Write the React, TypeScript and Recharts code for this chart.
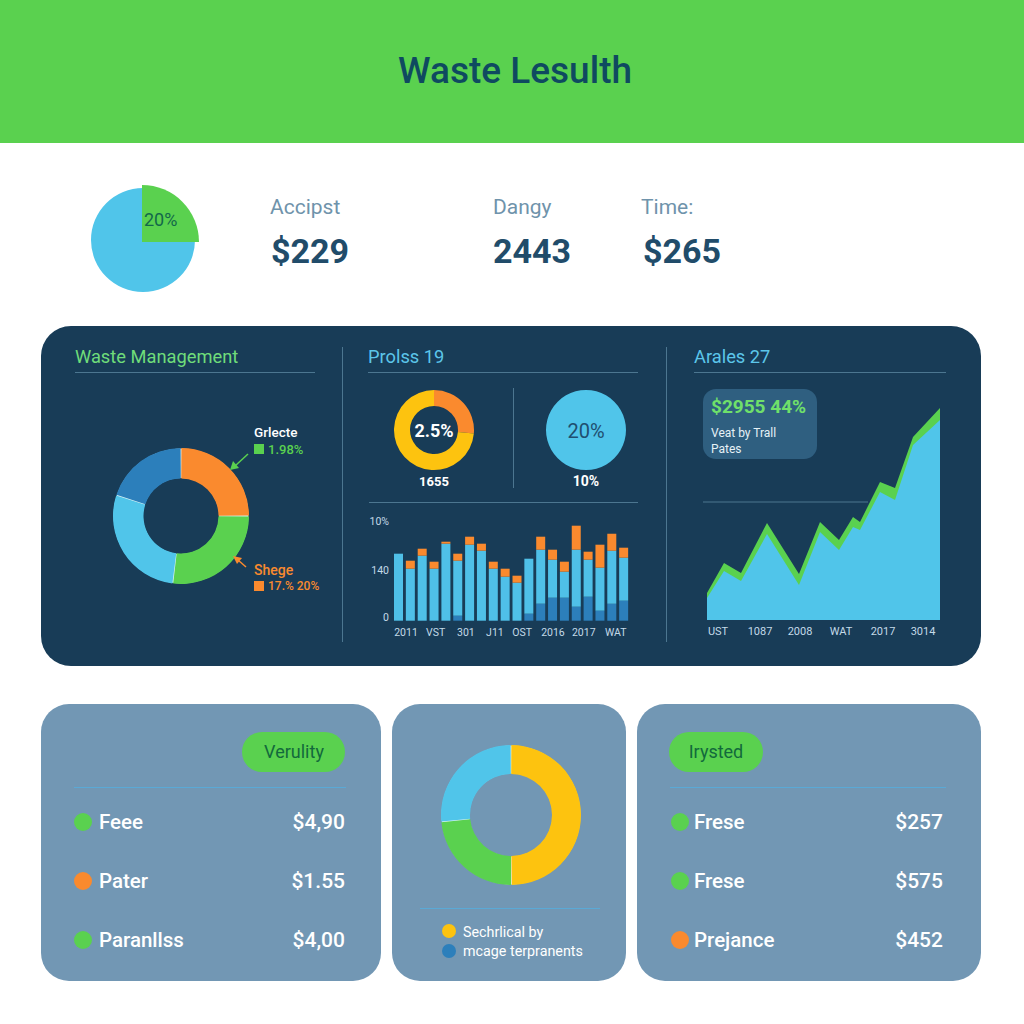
import React from "react"
import {
  Area,
  AreaChart,
  Bar,
  BarChart,
  Cell,
  Pie,
  PieChart,
  ReferenceLine,
  XAxis,
  YAxis,
} from "recharts"

const GREEN = "#5ad14f"
const SKY = "#50c5ea"
const BLUE = "#2c7fbb"
const ORANGE = "#fa8a2e"
const YELLOW = "#fdc30f"
const NAVY = "#183c57"
const CARD = "#7297b4"
const RULE = "#4c7690"
const FONT = "Roboto, sans-serif"

// top left pie
const sharePart = [25]
const shareRest = [75]

// waste management donut
const wasteValues = [90, 97, 101, 72]
const wasteColors = [ORANGE, GREEN, SKY, BLUE]

// small rings
const ringValues = [95, 265]
const ringColors = [ORANGE, YELLOW]
const circleValues = [100]

// stacked bars
const barIndex = [1, 2, 3, 4, 5, 6, 7, 8, 9, 10, 11, 12, 13, 14, 15, 16, 17, 18, 19, 20]
const barDark = [0, 0, 0, 0, 0, 5, 0, 0, 0, 0, 0, 7, 17, 23, 23, 14, 24, 10, 17, 20]
const barLight = [67, 52, 65, 52, 77, 55, 76, 70, 52, 44, 38, 55, 54, 38, 26, 57, 37, 43, 53, 43]
const barOrange = [0, 8, 7, 7, 2, 7, 8, 7, 7, 8, 7, 0, 13, 10, 10, 24, 8, 23, 17, 10]
const barTicks = [1.6, 4.1, 6.65, 9.1, 11.4, 14, 16.6, 19.3]
const barTickLabels = ["2011", "VST", "301", "J11", "OST", "2016", "2017", "WAT"]
const barYTicks = [3, 50, 99]
const barYLabels = ["0", "140", "10%"]

// area chart
const areaX = [0, 17, 34, 60, 92, 113, 132, 146, 153, 173, 188, 206, 233]
const areaGreen = [27, 57, 47, 97, 46, 98, 80, 103, 98, 138, 132, 183, 212]
const areaSky = [22, 49, 39, 86, 35, 88, 70, 93, 90, 128, 120, 175, 200]
const areaTicks = [11, 53, 93, 134, 176, 216]
const areaTickLabels = ["UST", "1087", "2008", "WAT", "2017", "3014"]

// bottom cards
const donutValues = [180, 84.5, 95.5]
const donutColors = [YELLOW, GREEN, SKY]
const leftRows = ["Feee", "Pater", "Paranllss"]
const leftAmounts = ["$4,90", "$1.55", "$4,00"]
const leftDots = [GREEN, ORANGE, GREEN]
const rightRows = ["Frese", "Frese", "Prejance"]
const rightAmounts = ["$257", "$575", "$452"]
const rightDots = [GREEN, GREEN, ORANGE]

const barData = barIndex.map((i, n) => ({
  i,
  dark: barDark[n],
  light: barLight[n],
  orange: barOrange[n],
}))
const areaData = areaX.map((x, n) => ({ x, green: areaGreen[n], sky: areaSky[n] }))
const toPie = (values: number[]) => values.map((value, n) => ({ name: `s${n}`, value }))

interface TxtProps {
  x: number
  y: number
  size: number
  color: string
  weight?: number
  align?: "left" | "center" | "right"
  children: React.ReactNode
}

// text placed by its anchor x and vertical middle y
function Txt({ x, y, size, color, weight = 400, align = "left", children }: TxtProps) {
  const shift = align === "center" ? "-50%" : align === "right" ? "-100%" : "0"
  return (
    <div
      style={{
        position: "absolute",
        left: x,
        top: y,
        transform: `translate(${shift}, -50%)`,
        fontSize: size,
        lineHeight: 1,
        color,
        fontWeight: weight,
        whiteSpace: "nowrap",
      }}
    >
      {children}
    </div>
  )
}

function Box({ x, y, w, h, color, radius = 0 }: { x: number; y: number; w: number; h: number; color: string; radius?: number }) {
  return (
    <div
      style={{
        position: "absolute",
        left: x,
        top: y,
        width: w,
        height: h,
        background: color,
        borderRadius: radius,
      }}
    />
  )
}

// the pale ring underneath only shows through the gaps between sectors
function Ring({
  cx,
  cy,
  outer,
  inner,
  values,
  colors,
  gap = 0,
}: {
  cx: number
  cy: number
  outer: number
  inner: number
  values: number[]
  colors: string[]
  gap?: number
}) {
  const size = outer * 2 + 4
  return (
    <div style={{ position: "absolute", left: cx - size / 2, top: cy - size / 2 }}>
      <PieChart width={size} height={size} margin={{ top: 0, right: 0, bottom: 0, left: 0 }}>
        {gap > 0 && (
          <Pie
            data={toPie([1])}
            dataKey="value"
            cx={size / 2}
            cy={size / 2}
            innerRadius={inner + 0.6}
            outerRadius={outer - 0.6}
            startAngle={90}
            endAngle={-270}
            fill="#d8f2f5"
            stroke="none"
            isAnimationActive={false}
          />
        )}
        <Pie
          data={toPie(values)}
          dataKey="value"
          cx={size / 2}
          cy={size / 2}
          innerRadius={inner}
          outerRadius={outer}
          startAngle={90 - gap / 2}
          endAngle={-270 - gap / 2}
          paddingAngle={gap}
          stroke="none"
          isAnimationActive={false}
        >
          {values.map((_, n) => (
            <Cell key={n} fill={colors[n]} />
          ))}
        </Pie>
      </PieChart>
    </div>
  )
}

function ShareChart() {
  return (
    <div style={{ position: "absolute", left: 80, top: 175 }}>
      <PieChart width={126} height={126} margin={{ top: 0, right: 0, bottom: 0, left: 0 }}>
        <Pie
          data={toPie(shareRest)}
          dataKey="value"
          cx={63}
          cy={65}
          outerRadius={52}
          startAngle={0}
          endAngle={-270}
          fill={SKY}
          stroke="none"
          isAnimationActive={false}
        />
        <Pie
          data={toPie(sharePart)}
          dataKey="value"
          cx={62}
          cy={67}
          outerRadius={57}
          startAngle={90}
          endAngle={0}
          fill={GREEN}
          stroke="none"
          isAnimationActive={false}
        />
      </PieChart>
    </div>
  )
}

function StackedBars() {
  return (
    <div style={{ position: "absolute", left: 360, top: 510 }}>
      <BarChart
        width={280}
        height={135}
        data={barData}
        margin={{ top: 10.7, right: 10, bottom: 0, left: 0 }}
      >
        <XAxis
          dataKey="i"
          type="number"
          domain={[0.5, 20.5]}
          ticks={barTicks}
          interval={0}
          height={24.3}
          axisLine={false}
          tickLine={false}
          tickSize={0}
          tickMargin={8}
          tick={{ fill: "#c3dae8", fontSize: 10.5 }}
          tickFormatter={(_v: number, n: number) => barTickLabels[n]}
        />
        <YAxis
          type="number"
          width={33}
          domain={[0, 100]}
          ticks={barYTicks}
          axisLine={false}
          tickLine={false}
          tickSize={0}
          tickMargin={4}
          tick={{ fill: "#c3dae8", fontSize: 10.5 }}
          tickFormatter={(_v: number, n: number) => barYLabels[n]}
        />
        <Bar dataKey="dark" stackId="a" fill={BLUE} barSize={9} isAnimationActive={false} />
        <Bar dataKey="light" stackId="a" fill="#4fc0e8" barSize={9} isAnimationActive={false} />
        <Bar dataKey="orange" stackId="a" fill={ORANGE} barSize={9} isAnimationActive={false} />
      </BarChart>
    </div>
  )
}

function TrendArea() {
  return (
    <div style={{ position: "absolute", left: 680, top: 370 }}>
      <AreaChart
        width={280}
        height={280}
        data={areaData}
        margin={{ top: 10, right: 20, bottom: 0, left: 27 }}
      >
        <XAxis
          dataKey="x"
          type="number"
          domain={[0, 233]}
          ticks={areaTicks}
          interval={0}
          height={30}
          axisLine={false}
          tickLine={false}
          tickSize={0}
          tickMargin={7}
          tick={{ fill: "#c3dae8", fontSize: 11 }}
          tickFormatter={(_v: number, n: number) => areaTickLabels[n]}
        />
        <YAxis type="number" domain={[0, 240]} hide />
        <ReferenceLine
          segment={[
            { x: -4, y: 118 },
            { x: 161, y: 118 },
          ]}
          stroke={RULE}
          strokeWidth={1}
          ifOverflow="visible"
        />
        <Area
          type="linear"
          dataKey="green"
          fill={GREEN}
          fillOpacity={1}
          stroke="none"
          isAnimationActive={false}
        />
        <Area
          type="linear"
          dataKey="sky"
          fill={SKY}
          fillOpacity={1}
          stroke="none"
          isAnimationActive={false}
        />
      </AreaChart>
    </div>
  )
}

function Rows({
  names,
  amounts,
  dots,
  dotX,
  textX,
  amountX,
}: {
  names: string[]
  amounts: string[]
  dots: string[]
  dotX: number
  textX: number
  amountX: number
}) {
  const ys = [822, 881, 940]
  return (
    <>
      {names.map((name, n) => (
        <React.Fragment key={n}>
          <Box x={dotX - 9} y={ys[n] - 9} w={18} h={18} color={dots[n]} radius={9} />
          <Txt x={textX} y={ys[n]} size={20.5} color="#fff" weight={500}>
            {name}
          </Txt>
          <Txt x={amountX} y={ys[n]} size={21} color="#fff" weight={500} align="right">
            {amounts[n]}
          </Txt>
        </React.Fragment>
      ))}
    </>
  )
}

export default function App() {
  return (
    <div
      style={{
        position: "absolute",
        left: 0,
        top: 0,
        width: 1024,
        height: 1024,
        background: "#fff",
        overflow: "hidden",
        fontFamily: FONT,
      }}
    >
      <Box x={0} y={0} w={1024} h={143} color={GREEN} />
      <Txt x={515} y={70} size={37} color="#0f4a60" weight={500} align="center">
        Waste Lesulth
      </Txt>

      <ShareChart />
      <Txt x={144} y={220} size={18} color="#12694a">
        20%
      </Txt>
      <Txt x={270} y={207} size={21} color="#6f93ab">Accipst</Txt>
      <Txt x={271} y={251} size={34} color="#214c6a" weight={700}>$229</Txt>
      <Txt x={493} y={207} size={21} color="#6f93ab">Dangy</Txt>
      <Txt x={493} y={251} size={34} color="#214c6a" weight={700}>2443</Txt>
      <Txt x={641} y={207} size={21} color="#6f93ab">Time:</Txt>
      <Txt x={643} y={251} size={34} color="#214c6a" weight={700}>$265</Txt>

      <Box x={41} y={326} w={940} h={340} color={NAVY} radius={30} />
      <Txt x={75} y={357} size={18.3} color="#6fdc7a">Waste Management</Txt>
      <Txt x={368} y={357} size={18.3} color="#5cc6ea">Prolss 19</Txt>
      <Txt x={694} y={357} size={18.3} color="#5cc6ea">Arales 27</Txt>
      <Box x={75} y={371.5} w={240} h={1} color={RULE} />
      <Box x={368} y={371.5} w={270} h={1} color={RULE} />
      <Box x={694} y={371.5} w={252} h={1} color={RULE} />
      <Box x={342} y={347} w={1} h={295} color={RULE} />
      <Box x={666} y={347} w={1} h={295} color={RULE} />
      <Box x={513} y={388} w={1} h={100} color={RULE} />
      <Box x={369} y={501.5} w={269} h={1} color={RULE} />

      <Ring cx={181} cy={516} outer={68} inner={37.5} values={wasteValues} colors={wasteColors} gap={0.7} />
      <Txt x={254} y={433} size={13.5} color="#fff" weight={500}>Grlecte</Txt>
      <Box x={254} y={444} w={10} h={10} color={GREEN} />
      <Txt x={268} y={449} size={13} color={GREEN} weight={500}>1.98%</Txt>
      <Txt x={254} y={570} size={14} color={ORANGE} weight={500}>Shege</Txt>
      <Box x={254} y={581} w={10} h={10} color={ORANGE} />
      <Txt x={268} y={586} size={12} color={ORANGE} weight={500}>17.% 20%</Txt>
      <svg width={1024} height={1024} style={{ position: "absolute", left: 0, top: 0, pointerEvents: "none" }}>
        <line x1={248} y1={454} x2={235} y2={466} stroke={GREEN} strokeWidth={1.5} />
        <polygon points="230,470 233,461 239,468" fill={GREEN} />
        <line x1={246} y1={567} x2={238} y2={560} stroke={ORANGE} strokeWidth={1.5} />
        <polygon points="233,556 242,558 237,564" fill={ORANGE} />
      </svg>

      <Ring cx={434} cy={430} outer={40} inner={24} values={ringValues} colors={ringColors} />
      <Txt x={434} y={431} size={18} color="#fff" weight={700} align="center">2.5%</Txt>
      <Txt x={434} y={481} size={13} color="#fff" weight={700} align="center">1655</Txt>
      <Ring cx={586} cy={430} outer={40} inner={0} values={circleValues} colors={[SKY]} />
      <Txt x={586} y={431} size={20} color="#1f4f70" align="center">20%</Txt>
      <Txt x={586} y={481} size={14} color="#fff" weight={700} align="center">10%</Txt>

      <StackedBars />
      <TrendArea />

      <Box x={703} y={389} w={114} h={70} color="#2f5f80" radius={13} />
      <Txt x={711} y={406} size={19} color="#6fe06a" weight={700}>$2955 44%</Txt>
      <Txt x={711} y={433} size={12} color="#e6f1f6">Veat by Trall</Txt>
      <Txt x={711} y={449} size={12} color="#e6f1f6">Pates</Txt>

      <Box x={41} y={704} w={340} h={277} color={CARD} radius={28} />
      <Box x={392} y={704} w={234} h={277} color={CARD} radius={28} />
      <Box x={637} y={704} w={344} h={277} color={CARD} radius={28} />

      <Box x={242} y={732} w={103} h={40} color={GREEN} radius={20} />
      <Txt x={294} y={752} size={18} color="#12693c" align="center">Verulity</Txt>
      <Box x={74} y={786.5} w={272} h={1.5} color="#5aa9d6" />
      <Rows names={leftRows} amounts={leftAmounts} dots={leftDots} dotX={83} textX={99} amountX={345} />

      <Ring cx={511} cy={815} outer={70} inner={41} values={donutValues} colors={donutColors} gap={0.6} />
      <Box x={420} y={907.5} w={180} h={1.5} color="#5aa9d6" />
      <Box x={442} y={924} w={14} h={14} color={YELLOW} radius={7} />
      <Txt x={463} y={932} size={14.3} color="#fff">Sechrlical by</Txt>
      <Box x={442} y={944} w={14} h={14} color={BLUE} radius={7} />
      <Txt x={463} y={951} size={14.3} color="#fff">mcage terpranents</Txt>

      <Box x={669} y={732} w={94} h={40} color={GREEN} radius={20} />
      <Txt x={716} y={752} size={18} color="#12693c" align="center">Irysted</Txt>
      <Box x={670} y={786.5} w={276} h={1.5} color="#5aa9d6" />
      <Rows names={rightRows} amounts={rightAmounts} dots={rightDots} dotX={680} textX={694} amountX={943} />
    </div>
  )
}
